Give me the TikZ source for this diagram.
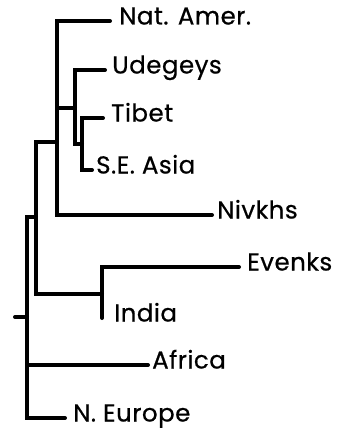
\documentclass[tikz,border=0pt]{standalone}
\usepackage{fontspec}
\setmainfont{Poppins}
\newfontfamily\labfont{Poppins}[FakeBold=0.6, LetterSpace=2]
\begin{document}
\begin{tikzpicture}[x=1pt,y=1pt,
  branch/.style={line width=4pt, line cap=round, line join=miter, draw=black},
  leaf/.style={anchor=west, inner ysep=0pt, inner xsep=6pt, text height=0.7em, text depth=0pt, font=\labfont\fontsize{24.5}{28}\selectfont}]
\useasboundingbox (0,0) rectangle (340,-433);
% internal nodes
\coordinate (root) at (27,-317);
\coordinate (stub) at (15,-317);
\coordinate (E) at (36,-217);
\coordinate (A) at (57,-142);
\coordinate (B) at (75,-108);
\coordinate (C) at (82,-144);
\coordinate (D) at (102,-294);
% leaves
\node[leaf, inner xsep=9pt] (nat) at (110,-21) {Nat. Amer.};
\node[leaf, inner xsep=7pt] (ude) at (105,-70) {Udegeys};
\node[leaf, inner xsep=8pt] (tib) at (103,-118) {Tibet};
\node[leaf, inner xsep=4pt] (sea) at (92,-170) {S.E. Asia};
\node[leaf, inner xsep=5pt] (niv) at (212,-215) {Nivkhs};
\node[leaf, inner xsep=8pt] (eve) at (239,-267) {Evenks};
\node[leaf, inner xsep=12pt] (ind) at (102,-318) {India};
\node[leaf, inner xsep=4pt] (afr) at (148,-365) {Africa};
\node[leaf, inner xsep=8pt] (neu) at (65,-418) {N. Europe};
% branches
\draw[branch] (stub) -- (root);
\draw[branch] (root) |- (E);
\draw[branch] (root) |- (afr.west);
\draw[branch] (root) |- (neu.west);
\draw[branch] (E) |- (A);
\draw[branch] (E) |- (D);
\draw[branch] (A) |- (nat.west);
\draw[branch] (A) |- (B);
\draw[branch] (A) |- (niv.west);
\draw[branch] (B) |- (ude.west);
\draw[branch] (B) |- (C);
\draw[branch] (C) |- (tib.west);
\draw[branch] (C) |- (sea.west);
\draw[branch] (D) |- (eve.west);
\draw[branch] (D) |- (ind.west);
\end{tikzpicture}
\end{document}
